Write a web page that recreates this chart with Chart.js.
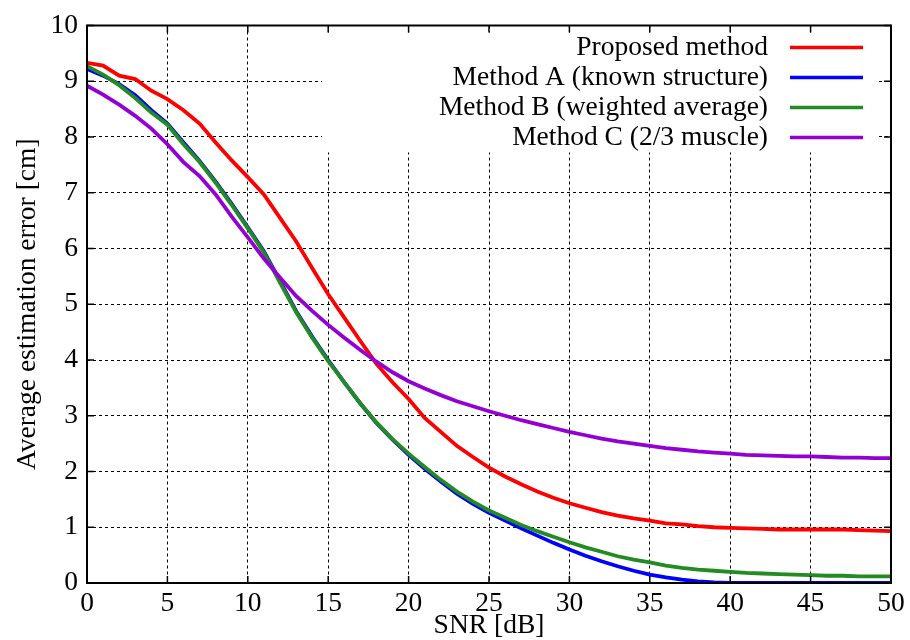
<!DOCTYPE html>
<html>
<head>
<meta charset="utf-8">
<title>Average estimation error vs SNR</title>
<script src="https://cdn.jsdelivr.net/npm/chart.js@4/dist/chart.umd.min.js"></script>
<style>
  html, body { margin: 0; padding: 0; background: #fff; }
  #wrap { width: 910px; height: 640px; }
</style>
</head>
<body>
<div id="wrap"><canvas id="errChart" width="910" height="640"></canvas></div>
<script>
/*******************************
* DATA
********************************/
var snr = [0,1,2,3,4,5,6,7,8,9,10,11,12,13,14,15,16,17,18,19,20,21,22,23,24,25,
           26,27,28,29,30,31,32,33,34,35,36,37,38,39,40,41,42,43,44,45,46,47,48,49,50];

var proposed = [9.33,9.28,9.10,9.04,8.83,8.68,8.48,8.24,7.90,7.58,7.28,6.97,6.55,6.13,5.65,5.18,4.76,4.34,3.93,3.60,
                3.30,2.96,2.71,2.46,2.26,2.07,1.91,1.77,1.64,1.53,1.43,1.35,1.27,1.21,1.16,1.12,1.07,1.05,1.02,1.00,
                0.99,0.98,0.97,0.96,0.96,0.96,0.96,0.96,0.95,0.94,0.93];

var methodA = [9.22,9.10,8.95,8.75,8.48,8.24,7.90,7.57,7.20,6.80,6.38,5.95,5.42,4.88,4.42,4.00,3.60,3.22,2.87,2.57,
               2.30,2.05,1.82,1.60,1.42,1.26,1.12,0.98,0.85,0.72,0.60,0.49,0.39,0.30,0.22,0.15,0.10,0.06,0.03,0.01,
               0.00,0.00,0.00,0.00,0.00,0.00,0.00,0.00,0.00,0.00,0.00];

var methodB = [9.27,9.12,8.93,8.70,8.44,8.22,7.87,7.55,7.18,6.78,6.36,5.93,5.39,4.86,4.40,3.98,3.60,3.22,2.88,2.58,
               2.32,2.08,1.85,1.64,1.46,1.30,1.17,1.04,0.93,0.83,0.73,0.64,0.56,0.48,0.42,0.37,0.31,0.27,0.24,0.22,
               0.20,0.18,0.17,0.16,0.15,0.14,0.13,0.13,0.12,0.12,0.12];

var methodC = [8.92,8.76,8.58,8.38,8.15,7.87,7.55,7.30,6.97,6.57,6.20,5.82,5.48,5.15,4.88,4.63,4.40,4.18,3.97,3.78,
               3.62,3.49,3.37,3.26,3.17,3.08,3.00,2.92,2.85,2.78,2.71,2.65,2.59,2.54,2.50,2.46,2.42,2.39,2.36,2.34,
               2.32,2.30,2.29,2.28,2.27,2.27,2.26,2.25,2.25,2.24,2.24];

var seriesLabels = ['Proposed method', 'Method A (known structure)', 'Method B (weighted average)', 'Method C (2/3 muscle)'];
var xTicks = [0,5,10,15,20,25,30,35,40,45,50];
var yTicks = [0,1,2,3,4,5,6,7,8,9,10];

(function(){

  var FONT = '"Liberation Serif", "Times New Roman", serif';
  var colors = ['#ff0000', '#0000ff', '#228b22', '#9400d3'];
  var seriesData = [proposed, methodA, methodB, methodC];

  function toPoints(arr) {
    return arr.map(function(v, i){ return { x: snr[i], y: v }; });
  }

  /*******************************
  * gnuplot-like frame, inward ticks and key
  ********************************/
  var gnuFrame = {
    id: 'gnuFrame',
    beforeDatasetsDraw: function(chart) {
      // key area blanks the grid behind it
      var ca = chart.chartArea, ctx = chart.ctx;
      ctx.save();
      ctx.fillStyle = '#fff';
      ctx.fillRect(ca.right - 569, ca.top + 7, 556, 120);
      ctx.restore();
    },
    afterDatasetsDraw: function(chart) {
      var ca = chart.chartArea, ctx = chart.ctx;
      var xs = chart.scales.x, ys = chart.scales.y;
      var tl = 7;
      ctx.save();
      ctx.strokeStyle = '#000';
      ctx.lineWidth = 1.5;
      ctx.setLineDash([]);
      ctx.beginPath();
      xTicks.forEach(function(t){
        var px = xs.getPixelForValue(t);
        ctx.moveTo(px, ca.bottom); ctx.lineTo(px, ca.bottom - tl);
        ctx.moveTo(px, ca.top); ctx.lineTo(px, ca.top + tl);
      });
      yTicks.forEach(function(t){
        var py = ys.getPixelForValue(t);
        ctx.moveTo(ca.left, py); ctx.lineTo(ca.left + tl, py);
        ctx.moveTo(ca.right, py); ctx.lineTo(ca.right - tl, py);
      });
      ctx.stroke();
      ctx.lineWidth = 2;
      ctx.strokeRect(ca.left, ca.top, ca.right - ca.left, ca.bottom - ca.top);
      ctx.restore();
    },
    afterDraw: function(chart) {
      var ca = chart.chartArea, ctx = chart.ctx;
      var textRight = ca.right - 123;
      var lineStart = ca.right - 101, lineEnd = ca.right - 28;
      ctx.save();
      ctx.font = '27.5px ' + FONT;
      ctx.textAlign = 'right';
      ctx.textBaseline = 'middle';
      chart.data.datasets.forEach(function(ds, i){
        var y = ca.top + 22 + i * 30;
        ctx.fillStyle = '#000';
        ctx.fillText(ds.label, textRight, y);
        ctx.strokeStyle = ds.borderColor;
        ctx.lineWidth = 3.5;
        ctx.beginPath();
        ctx.moveTo(lineStart, y); ctx.lineTo(lineEnd, y);
        ctx.stroke();
      });
      ctx.restore();
    }
  };

  var datasets = seriesData.map(function(arr, i){
    return {
      label: seriesLabels[i],
      data: toPoints(arr),
      borderColor: colors[i],
      backgroundColor: colors[i],
      borderWidth: 3.8,
      pointRadius: 0,
      tension: 0,
      fill: false,
      order: seriesData.length - i
    };
  });

  var ctx = document.getElementById('errChart');
  new Chart(ctx, {
    type: 'line',
    data: { datasets: datasets },
    plugins: [gnuFrame],
    options: {
      responsive: false,
      animation: false,
      devicePixelRatio: 1,
      layout: { padding: { left: 0, right: 19, top: 21, bottom: 0 } },
      plugins: {
        legend: { display: false },
        tooltip: { enabled: false }
      },
      scales: {
        x: {
          type: 'linear',
          min: 0, max: 50,
          afterFit: function(s){ s.height = 57; },
          afterBuildTicks: function(s){ s.ticks = xTicks.map(function(v){ return { value: v }; }); },
          ticks: { color: '#000', padding: 4, maxRotation: 0, font: { family: FONT, size: 27.5 } },
          grid: { color: '#000', lineWidth: 1, drawTicks: false },
          border: { display: false, dash: [3, 3] },
          title: { display: true, text: 'SNR [dB]', color: '#000',
                   font: { family: FONT, size: 27.5, lineHeight: 1 }, padding: { top: 0, bottom: 0 } }
        },
        y: {
          type: 'linear',
          min: 0, max: 10,
          afterFit: function(s){ s.width = 87; },
          afterBuildTicks: function(s){ s.ticks = yTicks.map(function(v){ return { value: v }; }); },
          ticks: { color: '#000', padding: 9, font: { family: FONT, size: 27.5 } },
          grid: { color: '#000', lineWidth: 1, drawTicks: false },
          border: { display: false, dash: [3, 3] },
          title: { display: true, text: 'Average estimation error [cm]', color: '#000',
                   font: { family: FONT, size: 27.5, lineHeight: 1 }, padding: { top: 14, bottom: 0 } }
        }
      }
    }
  });

})();
</script>
</body>
</html>
